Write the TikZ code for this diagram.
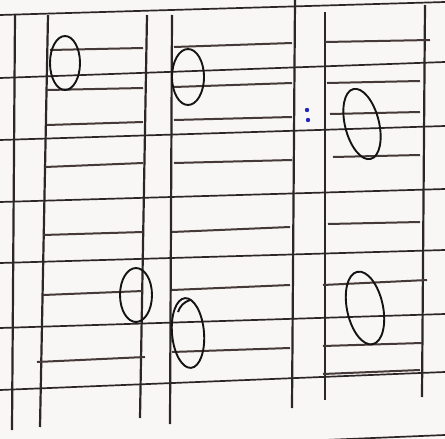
\documentclass[tikz,border=0pt]{standalone}
\usetikzlibrary{calc}
\definecolor{paper}{RGB}{248,247,245}
\definecolor{ink}{RGB}{45,38,38}
\definecolor{pencil}{RGB}{70,58,56}
\definecolor{pen}{RGB}{20,20,22}
\definecolor{blueink}{RGB}{30,40,190}
\tikzset{
  ruled/.style={draw=ink, line width=1.7pt},
  rail/.style={draw=ink, line width=2.2pt},
  rung/.style={draw=pencil, line width=2pt},
  loop/.style={draw=pen, line width=1.9pt},
}
\begin{document}
\begin{tikzpicture}[x=1pt,y=-1pt]
\fill[paper] (0,0) rectangle (445,439);
\useasboundingbox (0,0) rectangle (445,439);
% ruled paper lines
\draw[ruled] (0,15) -- (445,2);
\draw[ruled] (0,78) -- (445,62);
\draw[ruled] (0,140) -- (445,126);
\draw[ruled] (0,202) -- (445,189);
\draw[ruled] (0,263) -- (445,250);
\draw[ruled] (0,328) -- (445,314);
\draw[ruled] (0,390) -- (445,372);
\draw[ruled] (325,440) -- (445,435);
% rails
\draw[rail] (15,15) -- (12,430);
\draw[rail] (48,15) -- (40,427);
\draw[rail] (147,15) -- (140,418);
\draw[rail] (172,15) -- (170,424);
\draw[rail] (295,0) -- (292,408);
\draw[rail] (325,12) -- (325,400);
\draw[rail] (425,5) -- (422,397);
% rungs ladder 1
\draw[rung] (50,50) -- (143,48);
\draw[rung] (47,90) -- (143,88);
\draw[rung] (47,125) -- (143,122);
\draw[rung] (45,167) -- (143,163);
\draw[rung] (43,235) -- (143,232);
\draw[rung] (43,295) -- (143,291);
\draw[rung] (37,362) -- (145,357);
% rungs ladder 2
\draw[rung] (174,47) -- (292,43);
\draw[rung] (174,87) -- (292,83);
\draw[rung] (174,120) -- (292,117);
\draw[rung] (174,163) -- (292,160);
\draw[rung] (172,232) -- (290,227);
\draw[rung] (172,290) -- (290,285);
\draw[rung] (172,352) -- (290,348);
% rungs ladder 3
\draw[rung] (325,42) -- (430,40);
\draw[rung] (327,83) -- (420,81);
\draw[rung] (330,114) -- (420,112);
\draw[rung] (333,157) -- (420,155);
\draw[rung] (328,224) -- (420,222);
\draw[rung] (323,285) -- (427,280);
\draw[rung] (323,346) -- (422,343);
\draw[rung] (323,374) -- (420,370);
% loops
\draw[loop] (65,63) ellipse [x radius=15, y radius=27];
\draw[loop] (188,77) ellipse [x radius=16, y radius=28];
\draw[loop, rotate around={14:(362,124)}] (362,124) ellipse [x radius=17, y radius=36];
\draw[loop] (136,295) ellipse [x radius=16, y radius=27];
\draw[loop, rotate around={5:(188,333)}] (188,333) ellipse [x radius=16, y radius=35];
\draw[loop] (190,300) .. controls (184,302) and (180,306) .. (178,312);
\draw[loop, rotate around={12:(365,308)}] (365,308) ellipse [x radius=18, y radius=37];
% colon
\fill[blueink] (307,110) circle (2.2);
\fill[blueink] (308,120) circle (2.2);
\end{tikzpicture}
\end{document}
